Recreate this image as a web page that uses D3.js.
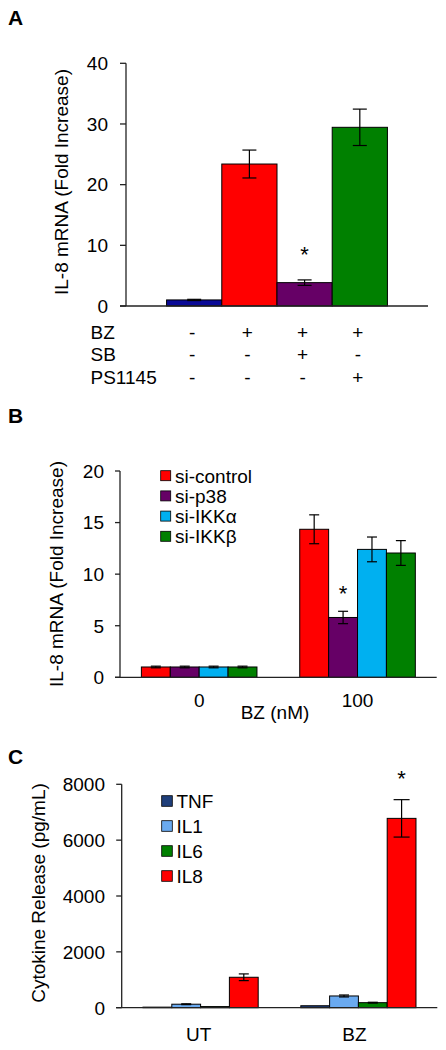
<!DOCTYPE html>
<html><head><meta charset="utf-8">
<script src="https://cdn.jsdelivr.net/npm/d3@7"></script>
<style>
body{margin:0;background:#fff;}
svg{display:block;font-family:"Liberation Sans",Arial,sans-serif;}
</style></head>
<body>
<svg id="c" width="446" height="1050"></svg>
<script>
// ---- Panel A data ----
const aCategories = ["c1","c2","c3","c4"];
const aValues = [1.0, 23.4, 3.85, 29.45];
const aErrors = [0.1, 2.3, 0.45, 3.0];
const aColors = ["#0a0a96","#ff0000","#660066","#008000"];
const aTicks = [0,10,20,30,40];
const aRowLabels = ["BZ","SB","PS1145"];
const aRowSigns = [["-","+","+","+"],["-","-","+","-"],["-","-","-","+"]];
const aStar = [false,false,true,false];

// ---- Panel B data ----
const bGroups = ["0","100"];
const bSeries = ["si-control","si-p38","si-IKKα","si-IKKβ"];
const bColors = ["#ff0000","#660066","#00b0f0","#008000"];
const bValues = [[1.0,1.0,1.0,1.0],[14.35,5.8,12.4,12.05]];
const bErrors = [[0.08,0.08,0.08,0.08],[1.4,0.6,1.2,1.2]];
const bTicks = [0,5,10,15,20];

// ---- Panel C data ----
const cGroups = ["UT","BZ"];
const cSeries = ["TNF","IL1","IL6","IL8"];
const cColors = ["#1f3f7a","#6aaaf0","#008000","#ff0000"];
const cValues = [[20,125,40,1090],[70,420,180,6780]];
const cErrors = [[0,15,0,120],[0,35,15,670]];
const cTicks = [0,2000,4000,6000,8000];

const svg = d3.select("#c");
const FS = 19;
const STAR = 22;
const axisColor = "#222";

function yAxis(g, y, ticks, x0, tickLen){
  g.append("line").attr("x1",x0).attr("x2",x0).attr("y1",y(ticks[0])).attr("y2",y(ticks[ticks.length-1]))
    .attr("stroke",axisColor).attr("stroke-width",1.3);
  ticks.forEach(t=>{
    g.append("line").attr("x1",x0-tickLen).attr("x2",x0).attr("y1",y(t)).attr("y2",y(t))
      .attr("stroke",axisColor).attr("stroke-width",1.3);
  });
}
function tickLabels(g, y, ticks, xr){
  g.selectAll(null).data(ticks).enter().append("text")
    .attr("x",xr).attr("y",d=>y(d)).attr("dy","0.36em").attr("text-anchor","end")
    .attr("font-size",FS).attr("fill","#000").text(d=>d);
}
function errBar(g, x, y, v, e, cap){
  if(e<=0) return;
  g.append("line").attr("x1",x).attr("x2",x).attr("y1",y(v+e)).attr("y2",y(Math.max(0,v-e))).attr("stroke","#000").attr("stroke-width",1.2);
  [v+e, Math.max(0,v-e)].forEach(w=>{
    g.append("line").attr("x1",x-cap/2).attr("x2",x+cap/2).attr("y1",y(w)).attr("y2",y(w)).attr("stroke","#000").attr("stroke-width",1.2);
  });
}
function yTitle(text, x, cy){
  svg.append("text").attr("transform",`translate(${x},${cy}) rotate(-90)`)
    .attr("text-anchor","middle").attr("font-size",FS).attr("fill","#000").text(text);
}
function panelLabel(t,x,y){
  svg.append("text").attr("x",x).attr("y",y).attr("font-size",21).attr("font-weight","bold").text(t);
}

// ================= Panel A =================
{
  const g = svg.append("g");
  const x = d3.scaleBand().domain(aCategories).range([126,428]).paddingInner(0).paddingOuter(0.735);
  const y = d3.scaleLinear().domain([0,40]).range([306,63.3]);
  g.selectAll("rect").data(aValues).enter().append("rect")
    .attr("x",(d,i)=>x(aCategories[i])).attr("width",x.bandwidth())
    .attr("y",d=>y(d)).attr("height",d=>y(0)-y(d))
    .attr("fill",(d,i)=>aColors[i]).attr("stroke","#000").attr("stroke-width",1);
  aValues.forEach((v,i)=>errBar(g, x(aCategories[i])+x.bandwidth()/2, y, v, aErrors[i], 14));
  yAxis(g, y, aTicks, 126, 6);
  g.append("line").attr("x1",120).attr("x2",428).attr("y1",y(0)).attr("y2",y(0)).attr("stroke",axisColor).attr("stroke-width",1.3);
  tickLabels(g, y, aTicks, 108);
  aStar.forEach((s,i)=>{ if(s) g.append("text").attr("x",x(aCategories[i])+x.bandwidth()/2).attr("y",261.5)
      .attr("text-anchor","middle").attr("font-size",STAR).text("*"); });
  const rowY = [339,360.7,384];
  aRowLabels.forEach((lab,r)=>{
    g.append("text").attr("x",90.5).attr("y",rowY[r]).attr("font-size",FS).text(lab);
    aRowSigns[r].forEach((s,i)=>{
      g.append("text").attr("x",x(aCategories[i])+x.bandwidth()/2-2).attr("y",rowY[r]).attr("text-anchor","middle").attr("font-size",FS).text(s);
    });
  });
  yTitle("IL-8 mRNA (Fold Increase)", 67.5, 182);
  panelLabel("A",8,25);
}

// ================= Panel B =================
{
  const g = svg.append("g");
  const x0 = d3.scaleBand().domain(bGroups).range([120,436.7]).padding(0);
  const x1 = d3.scaleBand().domain(bSeries).range([0,x0.bandwidth()]).paddingInner(0).paddingOuter(0.74);
  const y = d3.scaleLinear().domain([0,20]).range([677.3,471]);
  bGroups.forEach((grp,gi)=>{
    bSeries.forEach((s,si)=>{
      const v = bValues[gi][si];
      g.append("rect").attr("x",x0(grp)+x1(s)).attr("width",x1.bandwidth())
        .attr("y",y(v)).attr("height",y(0)-y(v)).attr("fill",bColors[si]).attr("stroke","#000").attr("stroke-width",1);
    });
  });
  bGroups.forEach((grp,gi)=>bSeries.forEach((s,si)=>errBar(g, x0(grp)+x1(s)+x1.bandwidth()/2, y, bValues[gi][si], bErrors[gi][si], 10)));
  yAxis(g, y, bTicks, 120, 5);
  g.append("line").attr("x1",115).attr("x2",436.7).attr("y1",y(0)).attr("y2",y(0)).attr("stroke",axisColor).attr("stroke-width",1.3);
  tickLabels(g, y, bTicks, 104);
  g.append("text").attr("x",x0("100")+x1("si-p38")+x1.bandwidth()/2).attr("y",600.5).attr("text-anchor","middle").attr("font-size",STAR).text("*");
  bGroups.forEach(grp=>{
    g.append("text").attr("x",x0(grp)+x0.bandwidth()/2).attr("y",707).attr("text-anchor","middle").attr("font-size",FS).text(grp);
  });
  g.append("text").attr("x",275).attr("y",718.5).attr("text-anchor","middle").attr("font-size",FS).text("BZ (nM)");
  bSeries.forEach((s,i)=>{
    const cy = 475.7 + i*20.2;
    g.append("rect").attr("x",160.7).attr("y",cy-5).attr("width",10).attr("height",10).attr("fill",bColors[i]).attr("stroke","#000").attr("stroke-width",0.8);
    g.append("text").attr("x",175).attr("y",cy).attr("dy","0.36em").attr("font-size",FS).text(s);
  });
  yTitle("IL-8 mRNA (Fold Increase)", 62.5, 574);
  panelLabel("B",8,423);
}

// ================= Panel C =================
{
  const g = svg.append("g");
  const x0 = d3.scaleBand().domain(cGroups).range([121.7,437.3]).padding(0);
  const x1 = d3.scaleBand().domain(cSeries).range([0,x0.bandwidth()]).paddingInner(0).paddingOuter(0.74);
  const y = d3.scaleLinear().domain([0,8000]).range([1007.7,784.3]);
  cGroups.forEach((grp,gi)=>{
    cSeries.forEach((s,si)=>{
      const v = cValues[gi][si];
      g.append("rect").attr("x",x0(grp)+x1(s)).attr("width",x1.bandwidth())
        .attr("y",y(v)).attr("height",y(0)-y(v)).attr("fill",cColors[si]).attr("stroke","#000").attr("stroke-width",1);
    });
  });
  cGroups.forEach((grp,gi)=>cSeries.forEach((s,si)=>errBar(g, x0(grp)+x1(s)+x1.bandwidth()/2, y, cValues[gi][si], cErrors[gi][si], gi===1&&si===3?16:10)));
  yAxis(g, y, cTicks, 121.7, 5.5);
  g.append("line").attr("x1",116).attr("x2",437.3).attr("y1",y(0)).attr("y2",y(0)).attr("stroke",axisColor).attr("stroke-width",1.3);
  tickLabels(g, y, cTicks, 105);
  g.append("text").attr("x",x0("BZ")+x1("IL8")+x1.bandwidth()/2).attr("y",785.5).attr("text-anchor","middle").attr("font-size",STAR).text("*");
  cGroups.forEach(grp=>{
    g.append("text").attr("x",x0(grp)+x0.bandwidth()/2+(grp==="UT"?-2:-4)).attr("y",1040.5).attr("text-anchor","middle").attr("font-size",FS).text(grp);
  });
  cSeries.forEach((s,i)=>{
    const cy = 801 + i*25;
    g.append("rect").attr("x",161.7).attr("y",cy-5.3).attr("width",10.6).attr("height",10.6).attr("fill",cColors[i]).attr("stroke","#000").attr("stroke-width",0.8);
    g.append("text").attr("x",176.5).attr("y",cy).attr("dy","0.36em").attr("font-size",FS).text(s);
  });
  yTitle("Cytokine Release (pg/mL)", 44.5, 893);
  panelLabel("C",8,764);
}
</script>
</body></html>
